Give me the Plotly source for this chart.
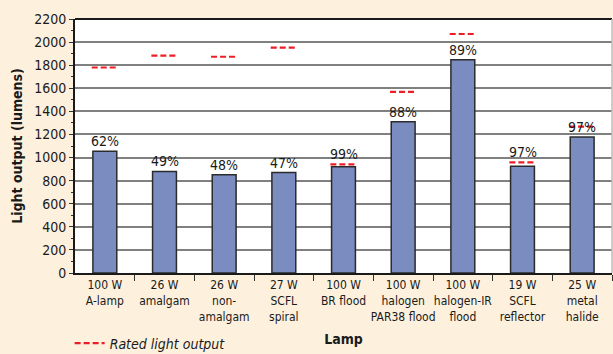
import plotly.graph_objects as go

categories = ["100 W<br>A-lamp", "26 W<br>amalgam", "26 W<br>non-<br>amalgam", "27 W<br>SCFL<br>spiral",
              "100 W<br>BR flood", "100 W<br>halogen<br>PAR38 flood", "100 W<br>halogen-IR<br>flood",
              "19 W<br>SCFL<br>reflector", "25 W<br>metal<br>halide"]
measured = [1055, 880, 850, 870, 920, 1310, 1848, 924, 1178]
rated = [1780, 1882, 1873, 1952, 940, 1568, 2070, 958, 1268]
pct_labels = ["62%", "49%", "48%", "47%", "99%", "88%", "89%", "97%", "97%"]
y_ticks = list(range(0, 2201, 200))

FONT = "DejaVu Sans Condensed, Liberation Sans Narrow, sans-serif"
idx = list(range(len(categories)))

fig = go.Figure()
fig.add_trace(go.Bar(x=idx, y=measured, width=0.4,
                     marker=dict(color="#7A8CC0", line=dict(color="#2b2b2b", width=1.5)),
                     showlegend=False, hoverinfo="y"))

hw = 0.22
dx, dy = [], []
for i, r in zip(idx, rated):
    dx += [i - hw, i + hw, None]
    dy += [r, r, None]
fig.add_trace(go.Scatter(x=dx, y=dy, mode="lines", name="<i>Rated light output</i>",
                         line=dict(color="#EE1C25", width=2.2, dash="6px,3px"),
                         showlegend=True))

for i, m, r, t in zip(idx, measured, rated, pct_labels):
    ybase = r if 0 <= r - m < 60 else m
    fig.add_annotation(x=i, y=ybase, text=t, showarrow=False, yanchor="bottom", yshift=0,
                       font=dict(family=FONT, size=14, color="#1a1a1a"))

fig.update_layout(
    width=613, height=354,
    margin=dict(l=75, r=1, t=19, b=81, autoexpand=False),
    paper_bgcolor="#FDF1DE", plot_bgcolor="#FFFFFF",
    font=dict(family=FONT, size=13, color="#1a1a1a"),
    bargap=0.6,
    legend=dict(x=-0.01, y=-0.215, xanchor="left", yanchor="top", bgcolor="rgba(0,0,0,0)",
                font=dict(family=FONT, size=14, color="#1a1a1a"), itemwidth=30,
                tracegroupgap=0),
    showlegend=True,
)
fig.update_xaxes(range=[-0.5, 8.5], tickvals=idx, ticktext=categories, ticks="", showgrid=False,
                 tickangle=0, automargin=False, ticklabeloverflow="allow",
                 showline=True, linecolor="#1a1a1a", linewidth=2, mirror=False, zeroline=False,
                 tickfont=dict(family=FONT, size=12),
                 minor=dict(tickvals=[i + 0.5 for i in idx], ticks="outside", ticklen=6,
                            tickcolor="#333", tickwidth=1, showgrid=False),
                 title=dict(text="<b>Lamp</b>", font=dict(family=FONT, size=14), standoff=12))
fig.update_yaxes(range=[0, 2200], tickvals=y_ticks, ticks="outside", ticklen=4, tickcolor="#333",
                 showgrid=True, gridcolor="#808080", gridwidth=1.5, zeroline=False, automargin=False,
                 showline=True, linecolor="#1a1a1a", linewidth=2,
                 tickfont=dict(family=FONT, size=14),
                 minor=dict(dtick=100, ticks="outside", ticklen=2, tickcolor="#333", showgrid=False),
                 title=dict(text="<b>Light output (lumens)</b>", font=dict(family=FONT, size=14), standoff=8))
fig.add_shape(type="line", xref="paper", yref="paper", x0=0, x1=1, y0=1, y1=1,
              line=dict(color="#1a1a1a", width=2))
fig.add_shape(type="line", xref="paper", yref="paper", x0=1, x1=1, y0=0, y1=1,
              line=dict(color="#bdbdbd", width=1.5))

fig.write_html("out.html")
